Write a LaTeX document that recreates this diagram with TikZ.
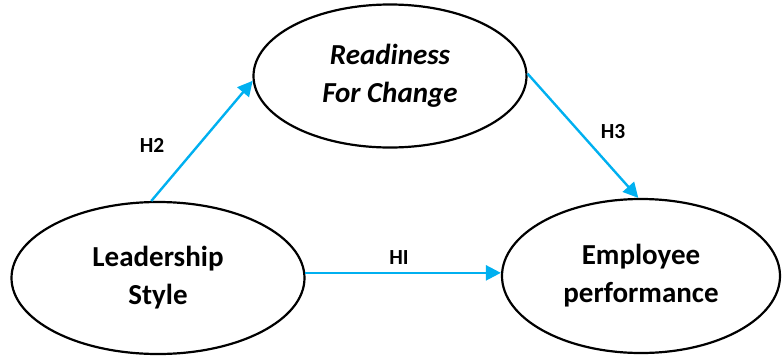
\documentclass[tikz,border=0pt]{standalone}
\usepackage{fontspec}
\setmainfont{Carlito}
\usetikzlibrary{shapes.geometric,arrows.meta}
\definecolor{arrowcyan}{HTML}{00B0F0}
\tikzset{
  construct/.style={ellipse, draw=black, line width=2.2pt, inner sep=0pt, align=center,
    font=\fontsize{29}{38}\selectfont\bfseries},
  path link/.style={draw=arrowcyan, line width=2.4pt, -{Triangle[length=15pt,width=15pt]}},
  hyp/.style={font=\fontsize{21.5}{24}\selectfont\bfseries, inner sep=0pt}
}
\begin{document}
\begin{tikzpicture}[x=1pt,y=-1pt]
\useasboundingbox (0,0) rectangle (782,362);
\node[construct, minimum width=293pt, minimum height=152pt] (L) at (158,278) {Leadership\\Style};
\node[construct, minimum width=278pt, minimum height=154pt] (E) at (641,276) {Employee\\performance};
\node[construct, minimum width=273pt, minimum height=143pt, font=\fontsize{29}{38}\selectfont\bfseries\itshape] (R) at (390,76) {Readiness\\For Change};
\draw[path link] (L.95) -- (R.182);
\draw[path link] (R.1) -- (E.92);
\draw[path link] (L.2) -- (L.2 -| E.west);
\node[hyp] (h2) at (152,145) {H2};
\node[hyp] (h3) at (613,132) {H3};
\node[hyp] (h1) at (399,258) {HI};
\end{tikzpicture}
\end{document}
